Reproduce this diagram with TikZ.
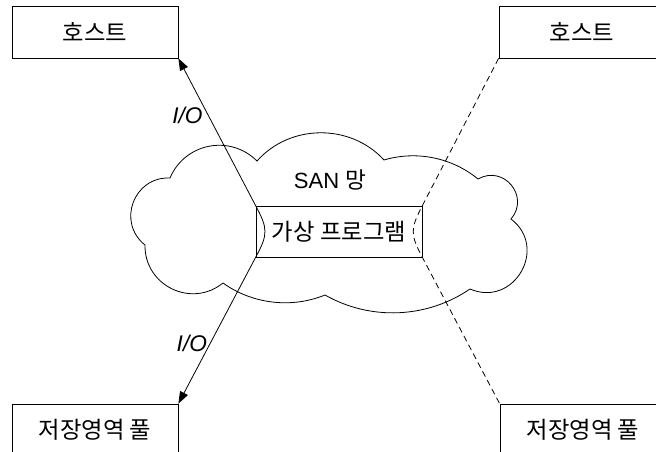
\documentclass[tikz,border=0pt]{standalone}
\usepackage{fontspec}
\setmainfont{Liberation Sans}
\newfontfamily\krfont{Noto Sans CJK KR}
\usetikzlibrary{arrows.meta}

\begin{document}
\begin{tikzpicture}[x=0.75pt,y=-0.75pt,line width=0.6pt]
\tikzstyle{unit} = [draw, minimum width=124.5pt, minimum height=39pt, inner sep=0pt, font=\krfont\fontsize{17.5}{21}\selectfont]
\tikzstyle{arrow} = [<->,>={Triangle[length=9pt,width=6.5pt]}]
\tikzstyle{link} = [dash pattern=on 4.5pt off 3pt]
\tikzstyle{iolabel} = [font=\itshape\fontsize{17}{20}\selectfont]

\useasboundingbox (0,0) rectangle (656,452);

%Hosts on top, storage pools below
\node[unit] (hostL) at (95,32) {호스트};
\node[unit] (hostR) at (582,32) {호스트};
\node[unit] (poolL) at (95,430) {저장영역 풀};
\node[unit] (poolR) at (583,430) {저장영역 풀};

%SAN cloud
\draw (145,245) to[bend left=72, looseness=1.3] (170,178)
  to[bend left=56, looseness=1.1] (257,161)
  to[bend left=48] (384,160)
  to[bend left=28, looseness=0.9] (478,179)
  to[bend left=80, looseness=1.46] (511,219)
  to[bend left=83, looseness=1.5] (470,289)
  to[bend left=32, looseness=0.92] (325,295)
  to[bend left=29, looseness=0.9] (223,283)
  to[bend left=65, looseness=1.2] (145,245);
\node[font=\fontsize{16.5}{20}\selectfont] (san) at (330,180) {SAN {\krfont\fontsize{17}{20}\selectfont 망}};

%Virtualization program in the SAN
\node[unit, minimum height=38.25pt] (vp) at (339,231.5) {가상 프로그램};

%I/O path from host through the program to the pool
\draw[arrow] (hostL.south east) -- (vp.north west) node[iolabel, pos=0.39, left=0.8pt] {I/O}
  to[out=-61.7, in=61.5, looseness=1.3] (vp.south west)
  -- (poolL.north east) node[iolabel, pos=0.59, left=-1.3pt] {I/O};

%Second host and pool, dashed
\draw[link] (hostR.south west) -- (vp.north east)
  to[out=-117.5, in=118, looseness=1.3] (vp.south east)
  -- (poolR.north west);

\end{tikzpicture}
\end{document}
